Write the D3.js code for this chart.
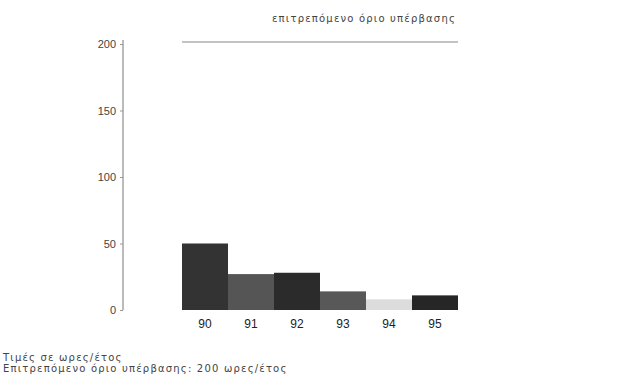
<!DOCTYPE html>
<html><head><meta charset="utf-8">
<script src="https://cdn.jsdelivr.net/npm/d3@7"></script>
<style>body{margin:0;background:#fff;font-family:"Liberation Sans",Arial,sans-serif}</style>
</head><body><svg id="c" width="618" height="390"></svg>
<script>
const years = ["90","91","92","93","94","95"];
const values = [50, 27, 28, 14, 8, 11];
const barColors = ["#333333","#555555","#2b2b2b","#585858","#dcdcdc","#262626"];
const yTicks = [0, 50, 100, 150, 200];
const limitValue = 200;
const limitLabel = "επιτρεπόμενο όριο υπέρβασης";
const notes = ["Τιμές σε ωρες/έτος", "Επιτρεπόμενο όριο υπέρβασης: 200 ωρες/έτος"];

const svg = d3.select("#c");
const x = d3.scaleBand().domain(years).range([182, 458]).padding(0);
const y = d3.scaleLinear().domain([0, 200]).range([310, 44]);

// y axis
const ya = svg.append("g").attr("transform","translate(123,0)")
  .call(d3.axisLeft(y).tickValues(yTicks).tickSize(3).tickPadding(4));
ya.select(".domain").attr("stroke","#777").attr("d","M0,40V310");
ya.selectAll(".tick line").attr("stroke","#999");
ya.selectAll(".tick text").attr("fill","#444").style("font-size","11px").style("font-family","Liberation Sans, Arial, sans-serif");

// bars
svg.selectAll("rect.bar").data(values).join("rect").attr("class","bar")
  .attr("x",(d,i)=>x(years[i])).attr("width",x.bandwidth())
  .attr("y",d=>y(d)).attr("height",d=>y(0)-y(d))
  .attr("fill",(d,i)=>barColors[i]);

// x labels
const xa = svg.append("g").attr("transform","translate(0,310)")
  .call(d3.axisBottom(x).tickSize(0).tickPadding(9));
xa.select(".domain").remove();
xa.selectAll(".tick text").attr("fill","#222").style("font-size","12px").style("font-family","Liberation Sans, Arial, sans-serif");

// limit line
svg.append("line").attr("x1",x("90")).attr("x2",x("95")+x.bandwidth())
  .attr("y1",y(limitValue)-2).attr("y2",y(limitValue)-2)
  .attr("stroke","#888").attr("stroke-width",1.2);
svg.append("text").attr("x",456).attr("y",22).attr("text-anchor","end")
  .attr("fill","#444").style("font-family","DejaVu Sans, sans-serif")
  .style("font-size","10px").style("letter-spacing","1.2px").text(limitLabel);

// notes
svg.selectAll("text.note").data(notes).join("text").attr("class","note")
  .attr("x",3).attr("y",(d,i)=>361+i*11).attr("fill","#444")
  .style("font-family","DejaVu Sans, sans-serif")
  .style("font-size","10px").style("letter-spacing","1.2px").text(d=>d);
</script></body></html>
